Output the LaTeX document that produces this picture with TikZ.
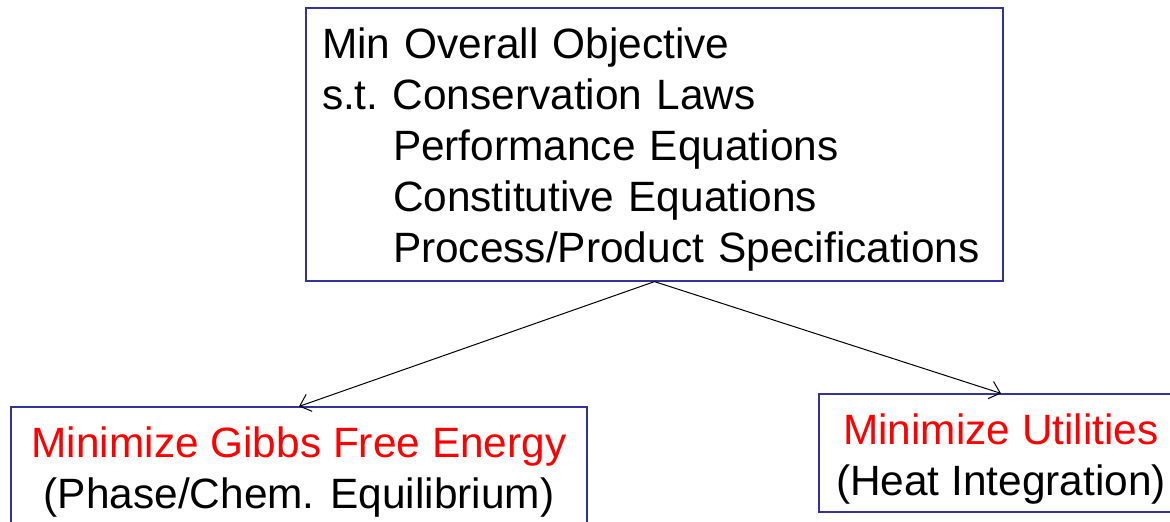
\documentclass[tikz,border=0pt]{standalone}
\usepackage{fontspec}
\setmainfont{Liberation Sans}
\usetikzlibrary{arrows.meta,positioning}
\definecolor{boxblue}{RGB}{51,51,153}

\begin{document}
\begin{tikzpicture}[x=0.5pt, y=-0.5pt]
        \fontsize{21.2}{25.5}\selectfont
          \tikzset{
              mybox/.style={rectangle, draw=boxblue, line width=0.6pt, inner xsep=8pt, inner ysep=0pt},
              myarrow/.style={-{Straight Barb[length=5pt,width=9pt]}, line width=0.5pt, black},
              mytitle/.style={text=red}
          }
          \useasboundingbox (0,0) rectangle (1170,521);
          \node[mybox, text width=332.5pt, minimum height=136.5pt, align=left] (objective) at (654.5,144.5) {\rule{0pt}{20pt}Min Overall Objective\\ s.t.\ Conservation Laws\\ \hspace*{35.5pt}Performance Equations\\ \hspace*{35.5pt}Constitutive Equations\\ \hspace*{35.5pt}Process/Product Specifications};
          \node[mybox, minimum width=288pt, minimum height=59.5pt, align=center] (gibbs) at (299,466.5) {\rule{0pt}{21pt}\textcolor{red}{Minimize Gibbs Free Energy}\\ (Phase/Chem. Equilibrium)};
          \node[mybox, minimum width=182pt, minimum height=59pt, align=center] (utilities) at (1001,453) {\rule{0pt}{21pt}\textcolor{red}{Minimize Utilities}\\ (Heat Integration)};

          \draw[myarrow] (objective.south) -- (gibbs.north);
          \draw[myarrow] (objective.south) -- (utilities.north);
        \end{tikzpicture}
\end{document}
